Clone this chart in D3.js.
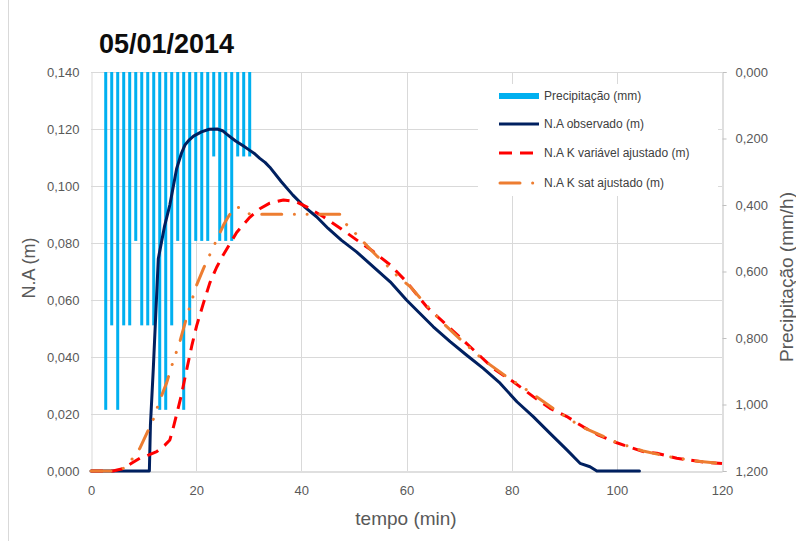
<!DOCTYPE html>
<html><head><meta charset="utf-8">
<script src="https://cdn.jsdelivr.net/npm/d3@7"></script>
<style>
body{margin:0;background:#fff}
svg{display:block}
text{font-family:"Liberation Sans",Arial,sans-serif}
</style>
</head><body>
<svg id="c" width="796" height="541"></svg>
<script>
// ---------- DATA ----------
const title = "05/01/2014";
const xTicks = [0, 20, 40, 60, 80, 100, 120];
const leftTicks = [0, 0.02, 0.04, 0.06, 0.08, 0.10, 0.12, 0.14];
const rightTicks = [0, 0.2, 0.4, 0.6, 0.8, 1.0, 1.2];

const precipTime = [2.80, 3.94, 5.08, 6.22, 7.36, 8.51, 9.65, 10.79, 11.93, 13.07, 14.21, 15.35, 16.49,
  17.63, 18.77, 19.92, 21.06, 22.20, 23.34, 24.48, 25.62, 26.76, 27.90, 29.04, 30.18];
const precipValue = [1.016, 0.762, 1.016, 0.762, 0.762, 0.508, 0.762, 0.762, 0.762, 1.016, 1.016, 0.762, 0.508,
  1.016, 0.762, 0.508, 0.508, 0.508, 0.254, 0.508, 0.508, 0.508, 0.254, 0.254, 0.254];

const obsTime = [0, 11.1, 11.3, 11.85, 12.8, 14.0, 15.0, 16.3, 17.2, 17.9, 18.7, 19.5, 21.0, 22.5, 24.0, 25.0,
  25.8, 27.5, 29.0, 30.2, 31.2, 32.1, 33.1, 34.0, 36.2, 38.4, 40.6, 42.9, 45.1, 47.6, 50.5, 53.7, 56.9,
  60.0, 61.9, 65.1, 68.3, 71.4, 74.6, 77.8, 81.0, 84.1, 87.3, 90.5, 93.0, 94.9, 96.2, 104.3];
const obsValue = [0, 0, 0.016, 0.036, 0.0745, 0.086, 0.0934, 0.1062, 0.1115, 0.1145, 0.1162, 0.1175, 0.119,
  0.1199, 0.1200, 0.1194, 0.1182, 0.1158, 0.1140, 0.1125, 0.1112, 0.1097, 0.1083, 0.1066, 0.1015, 0.0968,
  0.0927, 0.0892, 0.0851, 0.0810, 0.0769, 0.0716, 0.0664, 0.0600, 0.0565, 0.0506, 0.0454, 0.0407, 0.0360,
  0.0308, 0.0243, 0.0191, 0.0132, 0.0074, 0.0027, 0.0015, 0, 0];

const kvarTime = [0, 4.2, 6.0, 7.7, 9.3, 10.9, 12.5, 14.0, 15.0, 15.7, 16.3, 17.2, 17.9, 19.2, 20.1, 21.4,
  22.6, 23.9, 25.2, 26.5, 27.7, 29.0, 30.2, 32.1, 34.0, 36.6, 39.0, 41.0, 44.2, 47.4, 50.5, 53.7, 56.9,
  60.0, 63.8, 68.3, 72.1, 76.5, 80.3, 84.1, 87.3, 90.5, 93.6, 96.5, 100.0, 105.0, 107.6, 111.4, 116.5, 120.0];
const kvarValue = [0, 0, 0.0008, 0.0027, 0.0045, 0.0056, 0.0068, 0.0090, 0.0109, 0.0156, 0.0200, 0.0267,
  0.0330, 0.0442, 0.0510, 0.0590, 0.0660, 0.0715, 0.0760, 0.0800, 0.0837, 0.0865, 0.0890, 0.0920, 0.0940,
  0.0951, 0.0945, 0.0927, 0.0892, 0.0852, 0.0811, 0.0770, 0.0723, 0.0664, 0.0577, 0.0501, 0.0436, 0.0360,
  0.0313, 0.0261, 0.0220, 0.0191, 0.0155, 0.0126, 0.0099, 0.0068, 0.0062, 0.0045, 0.0031, 0.0026];

const ksatTime = [0, 4.2, 6.1, 7.7, 9.3, 10.9, 11.8, 13.1, 14.4, 15.3, 16.9, 18.5, 20.1, 21.4, 23.3, 25.2,
  26.1, 27.4, 28.7, 30.2, 47.4, 48.6, 50.5, 52.5, 54.5, 56.2, 58.5, 60.7, 63.8, 67.0, 70.8, 74.6, 78.7,
  82.9, 88.0, 93.0, 100.0, 105.0, 110.0, 115.0, 119.6];
const ksatValue = [0, 0, 0.0009, 0.0039, 0.0080, 0.0144, 0.0179, 0.0249, 0.0310, 0.0366, 0.0454, 0.0559,
  0.0653, 0.0711, 0.0787, 0.0863, 0.0892, 0.0927, 0.0922, 0.0901, 0.0901, 0.0865, 0.0830, 0.0790, 0.0752,
  0.0723, 0.0680, 0.0647, 0.0582, 0.0518, 0.0452, 0.0390, 0.0335, 0.0284, 0.0218, 0.0158, 0.0100, 0.0070,
  0.0050, 0.0035, 0.0027];

const legendLabels = ["Precipitação (mm)", "N.A observado (m)", "N.A K variável ajustado (m)", "N.A K sat ajustado (m)"];

// ---------- CHART ----------
const svg = d3.select("#c");
const P = {left: 91, right: 722, top: 72, bottom: 471};
const x = d3.scaleLinear().domain([0, 120]).range([P.left, P.right]);
const y = d3.scaleLinear().domain([0, 0.14]).range([P.bottom, P.top]);
const yR = d3.scaleLinear().domain([0, 1.2]).range([P.top, P.bottom]);
const loc = d3.formatLocale({decimal: ",", thousands: ".", grouping: [3], currency: ["", ""]});
const f3 = loc.format(".3f");

const C = {precip: "#00B0F0", obs: "#002060", kvar: "#FF0000", ksat: "#ED7D31", grid: "#D9D9D9", axis: "#BFBFBF", txt: "#595959"};

// chart area border (left edge visible)
svg.append("line").attr("x1", 8.5).attr("x2", 8.5).attr("y1", 0).attr("y2", 541)
  .attr("stroke", C.grid).attr("stroke-width", 1);

// gridlines
const grid = svg.append("g");
grid.selectAll(".h").data(leftTicks.filter(d => d > 0)).join("line")
  .attr("x1", P.left).attr("x2", P.right)
  .attr("y1", d => Math.round(y(d)) + 0.5).attr("y2", d => Math.round(y(d)) + 0.5)
  .attr("stroke", C.grid);
grid.selectAll(".v").data(xTicks.filter(d => d > 0 && d < 120)).join("line")
  .attr("y1", P.top).attr("y2", P.bottom)
  .attr("x1", d => Math.round(x(d)) + 0.5).attr("x2", d => Math.round(x(d)) + 0.5)
  .attr("stroke", C.grid);

// axes
const gL = svg.append("g").attr("transform", `translate(${P.left + 0.5},0)`)
  .call(d3.axisLeft(y).tickValues(leftTicks).tickSize(0).tickPadding(12).tickFormat(f3));
gL.select(".domain").attr("stroke", C.grid);
const gB = svg.append("g").attr("transform", `translate(0,${P.bottom + 0.5})`)
  .call(d3.axisBottom(x).tickValues(xTicks).tickSize(0).tickPadding(14).tickFormat(d3.format("d")));
gB.select(".domain").attr("stroke", C.axis);
const gR = svg.append("g").attr("transform", `translate(${P.right + 0.5},0)`)
  .call(d3.axisRight(yR).tickValues(rightTicks).tickSize(4).tickPadding(9).tickFormat(f3));
gR.select(".domain").attr("stroke", C.axis);
gR.selectAll(".tick line").attr("stroke", C.axis);
[gL, gB, gR].forEach(g => g.selectAll(".tick text").attr("fill", C.txt)
  .style("font-family", '"Liberation Sans", Arial, sans-serif').style("font-size", "13px"));

// legend background (hides gridlines)
svg.append("rect").attr("x", 478).attr("y", 84).attr("width", 240).attr("height", 112).attr("fill", "#fff");

// precipitation bars (hanging from top, reversed right axis)
svg.append("g").selectAll("rect").data(precipTime.map((t, i) => ({t, v: precipValue[i]}))).join("rect")
  .attr("x", d => x(d.t) - 1.5).attr("width", 3)
  .attr("y", yR(0)).attr("height", d => yR(d.v) - yR(0))
  .attr("fill", C.precip);

// lines
const line = d3.line().x(d => x(d[0])).y(d => y(d[1]));
const series = [
  {t: obsTime, v: obsValue, c: C.obs, dash: null, cap: "round"},
  {t: kvarTime, v: kvarValue, c: C.kvar, dash: "12,8", cap: "butt"},
  {t: ksatTime, v: ksatValue, c: C.ksat, dash: "20,12.6,0.1,12.6,0.1,12.6", cap: "round"}
];
series.forEach(s => {
  svg.append("path").datum(s.t.map((t, i) => [t, s.v[i]]))
    .attr("d", line).attr("fill", "none").attr("stroke", s.c).attr("stroke-width", 3)
    .attr("stroke-linejoin", "round").attr("stroke-linecap", s.cap)
    .attr("stroke-dasharray", s.dash);
});

// legend
const lg = svg.append("g");
const ly = [96, 124, 153, 183];
lg.append("rect").attr("x", 499).attr("y", ly[0] - 3).attr("width", 40).attr("height", 6).attr("fill", C.precip);
lg.append("line").attr("x1", 499).attr("x2", 539).attr("y1", ly[1]).attr("y2", ly[1])
  .attr("stroke", C.obs).attr("stroke-width", 3);
lg.append("line").attr("x1", 499).attr("x2", 539).attr("y1", ly[2]).attr("y2", ly[2])
  .attr("stroke", C.kvar).attr("stroke-width", 3).attr("stroke-dasharray", "13,8");
lg.append("line").attr("x1", 500).attr("x2", 540).attr("y1", ly[3]).attr("y2", ly[3])
  .attr("stroke", C.ksat).attr("stroke-width", 3).attr("stroke-linecap", "round")
  .attr("stroke-dasharray", "20,12.6,0.1,12.6");
lg.selectAll("text").data(legendLabels).join("text")
  .attr("x", 544).attr("y", (d, i) => ly[i]).attr("dy", "0.35em")
  .attr("fill", "#404040").style("font-size", "12px").text(d => d);

// title and axis titles
svg.append("text").attr("x", 99).attr("y", 53).attr("fill", "#0D0D0D")
  .style("font-size", "27px").style("font-weight", "bold").text(title);
svg.append("text").attr("transform", "translate(35,268) rotate(-90)").attr("text-anchor", "middle")
  .attr("fill", C.txt).style("font-size", "18px").text("N.A (m)");
svg.append("text").attr("transform", "translate(793,277) rotate(-90)").attr("text-anchor", "middle")
  .attr("fill", C.txt).style("font-size", "19px").text("Precipitação (mm/h)");
svg.append("text").attr("x", 406).attr("y", 525).attr("text-anchor", "middle")
  .attr("fill", C.txt).style("font-size", "19px").text("tempo (min)");
</script>
</body></html>
